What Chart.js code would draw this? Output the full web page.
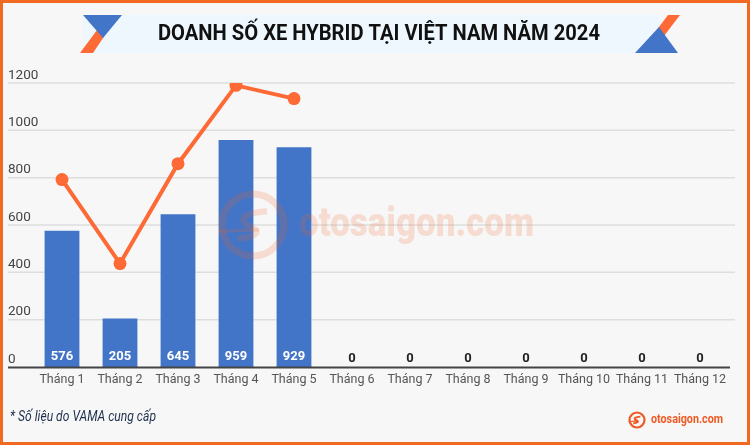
<!DOCTYPE html>
<html>
<head>
<meta charset="utf-8">
<script src="https://cdn.jsdelivr.net/npm/chart.js@4.4.1/dist/chart.umd.min.js"></script>
<style>
  body { margin: 0; background: #f7f7f7; }
  #wrap { width: 750px; height: 445px; }
</style>
</head>
<body>
<div id="wrap"><canvas id="hybridChart" width="750" height="445"></canvas></div>
<script>
const months = ['Tháng 1', 'Tháng 2', 'Tháng 3', 'Tháng 4', 'Tháng 5', 'Tháng 6',
  'Tháng 7', 'Tháng 8', 'Tháng 9', 'Tháng 10', 'Tháng 11', 'Tháng 12'];
const hybridSales = [576, 205, 645, 959, 929, 0, 0, 0, 0, 0, 0, 0];
const trendLine = [792, 437, 859, 1190, 1134];
const yTicks = [0, 200, 400, 600, 800, 1000, 1200];

const titleText = 'DOANH SỐ XE HYBRID TẠI VIỆT NAM NĂM 2024';
const noteText = '* Số liệu do VAMA cung cấp';

const ORANGE = '#fd6a35';
const BLUE = '#4275c7';

// draws text squeezed into a given width (condensed look)
function fitText(ctx, text, x, y, width, align) {
  const w = ctx.measureText(text).width;
  const s = Math.min(1, width / w);
  ctx.save();
  ctx.translate(x, y);
  ctx.scale(s, 1);
  ctx.textAlign = align;
  ctx.fillText(text, 0, 0);
  ctx.restore();
}

function drawLogo(ctx, cx, cy, r, lw) {
  ctx.beginPath();
  ctx.arc(cx, cy, r, 0, Math.PI * 2);
  ctx.lineWidth = lw;
  ctx.stroke();
  ctx.beginPath();
  ctx.moveTo(cx + r * 0.45, cy - r * 0.45);
  ctx.quadraticCurveTo(cx - r * 0.6, cy - r * 0.35, cx - r * 0.2, cy);
  ctx.quadraticCurveTo(cx + r * 0.55, cy + r * 0.3, cx - r * 0.5, cy + r * 0.45);
  ctx.lineWidth = lw * 0.9;
  ctx.stroke();
  ctx.beginPath();
  ctx.moveTo(cx - r * 1.1, cy + r * 0.2);
  ctx.lineTo(cx + r * 0.2, cy + r * 0.15);
  ctx.lineWidth = lw * 0.5;
  ctx.stroke();
}

const decorPlugin = {
  id: 'decor',
  beforeDraw(chart) {
    const ctx = chart.ctx;
    ctx.save();
    ctx.fillStyle = '#f7f7f7';
    ctx.fillRect(0, 0, 750, 445);

    // title banner
    ctx.fillStyle = '#eef7fd';
    ctx.fillRect(83, 15, 577, 38);
    ctx.fillStyle = ORANGE;
    ctx.beginPath();
    ctx.moveTo(80, 53); ctx.lineTo(93, 53); ctx.lineTo(105, 35); ctx.lineTo(97, 30);
    ctx.closePath(); ctx.fill();
    ctx.fillStyle = BLUE;
    ctx.beginPath();
    ctx.moveTo(83, 15); ctx.lineTo(122, 15); ctx.lineTo(103, 38);
    ctx.closePath(); ctx.fill();

    ctx.fillStyle = ORANGE;
    ctx.beginPath();
    ctx.moveTo(668, 15); ctx.lineTo(680, 15); ctx.lineTo(664, 36); ctx.lineTo(656, 31);
    ctx.closePath(); ctx.fill();
    ctx.fillStyle = BLUE;
    ctx.beginPath();
    ctx.moveTo(659, 27); ctx.lineTo(678, 53); ctx.lineTo(635, 53);
    ctx.closePath(); ctx.fill();

    ctx.fillStyle = '#111';
    ctx.font = 'bold 22px Roboto';
    ctx.textBaseline = 'middle';
    fitText(ctx, titleText, 379, 34, 442, 'center');

    // grid lines and y labels
    const y = chart.scales.y;
    ctx.strokeStyle = '#dedede';
    ctx.lineWidth = 1.5;
    ctx.fillStyle = '#444';
    ctx.font = '13.5px Roboto';
    ctx.textAlign = 'left';
    ctx.textBaseline = 'bottom';
    yTicks.forEach(v => {
      const py = y.getPixelForValue(v);
      if (v > 0) {
        ctx.beginPath();
        ctx.moveTo(8, py); ctx.lineTo(735, py);
        ctx.stroke();
      }
      ctx.fillText(String(v), 8, py - 1);
    });

    // footer
    ctx.fillStyle = '#1c2e4a';
    ctx.font = 'italic 15px Roboto';
    ctx.textBaseline = 'middle';
    fitText(ctx, noteText, 10, 417, 146, 'left');

    ctx.strokeStyle = '#ee5a24';
    drawLogo(ctx, 637, 420, 7.5, 2.2);
    ctx.fillStyle = '#ee5a24';
    ctx.font = 'bold 13px Roboto';
    fitText(ctx, 'otosaigon.com', 651, 420, 72, 'left');
    ctx.restore();
  },
  afterDatasetsDraw(chart) {
    const ctx = chart.ctx;
    const x = chart.scales.x;
    const y = chart.scales.y;
    ctx.save();
    // base line
    ctx.strokeStyle = '#444';
    ctx.lineWidth = 2;
    ctx.beginPath();
    ctx.moveTo(8, y.getPixelForValue(0) + 0.5);
    ctx.lineTo(730, y.getPixelForValue(0) + 0.5);
    ctx.stroke();

    // values at bar bottoms
    ctx.font = 'bold 13px Roboto';
    ctx.textAlign = 'center';
    ctx.textBaseline = 'middle';
    hybridSales.forEach((v, i) => {
      ctx.fillStyle = v > 0 ? '#fff' : '#222';
      ctx.fillText(String(v), x.getPixelForValue(i), y.getPixelForValue(0) - (v > 0 ? 10 : 8));
    });
    ctx.restore();
  },
  afterDraw(chart) {
    const ctx = chart.ctx;
    ctx.save();
    // watermark
    ctx.globalAlpha = 0.18;
    ctx.strokeStyle = '#f26522';
    drawLogo(ctx, 253, 225, 31, 7);
    ctx.fillStyle = '#f26522';
    ctx.font = '900 40px Roboto';
    ctx.textBaseline = 'middle';
    fitText(ctx, 'otosaigon.com', 299, 226, 235, 'left');
    ctx.globalAlpha = 1;

    // frame
    ctx.strokeStyle = '#f26a21';
    ctx.lineWidth = 3;
    ctx.strokeRect(1.5, 1.5, 747, 442);
    ctx.restore();
  }
};

const ctx = document.getElementById('hybridChart').getContext('2d');
new Chart(ctx, {
  data: {
    labels: months,
    datasets: [
      {
        type: 'line',
        label: 'Xu hướng',
        data: trendLine,
        borderColor: ORANGE,
        backgroundColor: ORANGE,
        borderWidth: 4,
        pointRadius: 6.5,
        pointBackgroundColor: ORANGE,
        pointBorderWidth: 0,
        tension: 0,
        order: 0
      },
      {
        type: 'bar',
        label: 'Doanh số',
        data: hybridSales,
        backgroundColor: BLUE,
        categoryPercentage: 1,
        barPercentage: 0.6,
        order: 1
      }
    ]
  },
  options: {
    responsive: false,
    animation: false,
    layout: { padding: { top: 83, left: 33, right: 21, bottom: 0 } },
    plugins: {
      legend: { display: false },
      tooltip: { enabled: false }
    },
    scales: {
      x: {
        grid: { display: false, drawTicks: false },
        border: { display: false },
        ticks: {
          color: '#555',
          font: { family: 'Roboto', size: 12.5 },
          padding: 5,
          maxRotation: 0,
          minRotation: 0,
          autoSkip: false
        },
        afterFit(scale) { scale.height = 78; }
      },
      y: {
        display: false,
        min: 0,
        max: 1200
      }
    }
  },
  plugins: [decorPlugin]
});
</script>
</body>
</html>
